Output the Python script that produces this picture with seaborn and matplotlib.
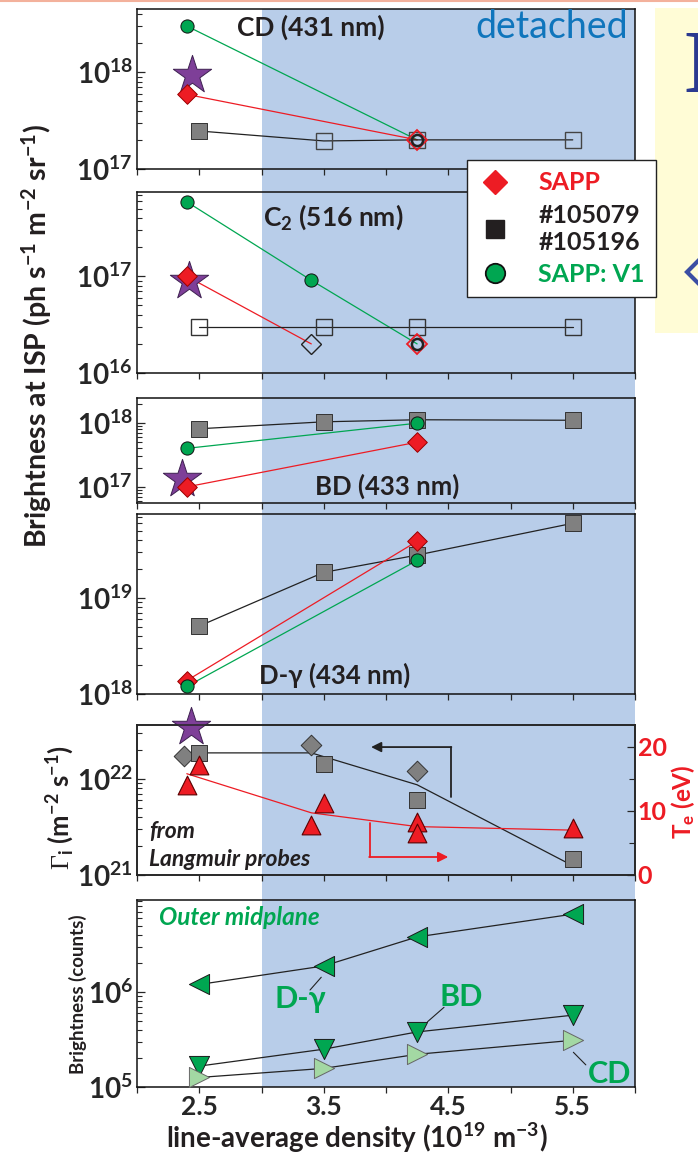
import numpy as np
import matplotlib.pyplot as plt
import seaborn as sns
from matplotlib.ticker import LogLocator, FuncFormatter, NullFormatter, FixedLocator
from matplotlib.patches import Rectangle
from matplotlib.lines import Line2D
import matplotlib.transforms as mtransforms

# ---- data ----
n_exp = [2.5, 3.5, 4.25, 5.5]          # #105079 / #105196
n_sim = [2.4, 4.25]                    # SAPP / SAPP:V1
n_sim3 = [2.4, 3.4, 4.25]

# CD (431 nm)
cd_exp = [2.47e17, 1.95e17, 2.0e17, 2.0e17]
cd_exp_open = [False, True, True, True]
cd_sapp = [5.9e17, 2.0e17]
cd_v1 = [3.0e18, 2.0e17]
cd_star = [9.3e17]

# C2 (516 nm)
c2_exp = [3.0e16, 3.0e16, 3.0e16, 3.0e16]
c2_sapp = [1.0e17, 2.0e16]             # at 2.4, 3.4
c2_sapp_lim = [2.0e16]                 # at 4.25
c2_v1 = [5.9e17, 9.1e16, 2.0e16]
c2_star = [9.0e16]

# BD (433 nm)
bd_exp = [8.1e17, 1.04e18, 1.12e18, 1.10e18]
bd_sapp = [1.0e17, 5.0e17]
bd_v1 = [4.0e17, 9.9e17]
bd_star = [1.33e17]

# D-gamma (434 nm)
dg_exp = [5.1e18, 1.85e19, 2.8e19, 6.0e19]
dg_sapp = [1.38e18, 3.9e19]
dg_v1 = [1.2e18, 2.46e19]

# Langmuir probes
n_gdiam = [2.375, 3.4, 4.25]
gamma_diam = [1.74e22, 2.26e22, 1.22e22]
gamma_sq = [1.85e22, 1.43e22, 6.0e21, 1.46e21]
n_gline = [2.5, 3.4, 4.25, 5.5]
gamma_line = [1.87e22, 1.87e22, 8.7e21, 1.25e21]
gamma_star = [3.5e22]
n_te = [2.4, 2.5, 3.4, 3.5, 4.25, 4.25, 5.5]
te = [14.1, 17.2, 7.8, 11.2, 8.3, 6.6, 7.3]
n_teline = [2.4, 3.4, 4.25, 5.5]
te_line = [15.8, 9.7, 7.55, 7.0]

# Outer midplane (counts)
omp_dg = [1.2e6, 1.88e6, 3.8e6, 6.6e6]
omp_bd = [1.66e5, 2.5e5, 3.8e5, 5.7e5]
omp_cd = [1.26e5, 1.57e5, 2.21e5, 3.1e5]

RED = '#ed1c24'
GREEN = '#00a651'
LGREEN = '#a3d8a3'
GRAY = '#808080'
PURPLE = '#7e3f98'
BLUE_BG = '#b8cde9'
INK = '#231f20'

sns.set_theme(style='ticks')
plt.rcParams['font.family'] = ['Lato', 'DejaVu Sans']
plt.rcParams['mathtext.fontset'] = 'custom'
plt.rcParams['mathtext.rm'] = 'Lato:bold'
plt.rcParams['mathtext.it'] = 'Lato:bold'
plt.rcParams['mathtext.bf'] = 'Lato:bold'
plt.rcParams['mathtext.sf'] = 'Liberation Serif'
plt.rcParams['axes.linewidth'] = 1.1

W, H = 698, 1153
fig = plt.figure(figsize=(W / 100, H / 100), dpi=100)


def add_panel(top, bottom):
    return fig.add_axes([137 / W, 1 - bottom / H, 498 / W, (bottom - top) / H])


def line(ax, x, y, color, lw=0.9, z=2):
    sns.lineplot(x=x, y=y, ax=ax, color=color, lw=lw, sort=False,
                 estimator=None, legend=False, zorder=z)


def dots(ax, x, y, marker, ms, fc, ec='black', mew=0.7, z=3):
    sns.scatterplot(x=x, y=y, ax=ax, marker=marker, s=ms ** 2, color=fc,
                    edgecolor=ec, linewidth=mew, zorder=z, legend=False,
                    clip_on=False)


def hollow(ax, x, y, marker, ms, ec, mew=1.0, z=3):
    ax.plot(x, y, ls='none', marker=marker, ms=ms, mfc='none', mec=ec,
            mew=mew, zorder=z, clip_on=False)


axes = [add_panel(9, 169), add_panel(192, 373), add_panel(398, 503),
        add_panel(514, 694), add_panel(725, 875), add_panel(900, 1087)]
ax1, ax2, ax3, ax4, ax5, ax6 = axes
for ax in axes:
    ax.set_yscale('log')
    ax.set_facecolor('none')

# ---- CD ----
line(ax1, n_sim, cd_v1, GREEN)
line(ax1, n_sim, cd_sapp, RED)
line(ax1, n_exp, cd_exp, '#222222')
for xi, yi, op in zip(n_exp, cd_exp, cd_exp_open):
    if op:
        hollow(ax1, [xi], [yi], 's', 11, '#444444')
    else:
        dots(ax1, [xi], [yi], 's', 11, GRAY, '#333333')
dots(ax1, [2.44], cd_star, '*', 29, PURPLE, '#3d2050', z=3)
dots(ax1, n_sim[:1], cd_sapp[:1], 'D', 10, RED, '#9a0000', z=4)
dots(ax1, n_sim[:1], cd_v1[:1], 'o', 9.5, GREEN, '#111111', z=4)
hollow(ax1, n_sim[1:], cd_sapp[1:], 'D', 10.5, RED, 1.3, z=4)
hollow(ax1, n_sim[1:], cd_v1[1:], 'o', 8, '#222222', 1.8, z=5)

# ---- C2 ----
line(ax2, n_sim3, c2_v1, GREEN)
line(ax2, n_sim3[:2], c2_sapp, RED)
line(ax2, n_exp, c2_exp, '#222222')
hollow(ax2, n_exp, c2_exp, 's', 11, '#333333')
dots(ax2, [2.42], c2_star, '*', 29, PURPLE, '#3d2050')
dots(ax2, n_sim3[:1], c2_sapp[:1], 'D', 10, RED, '#9a0000', z=4)
hollow(ax2, n_sim3[1:2], c2_sapp[1:], 'D', 10.5, '#222222', 1.0, z=4)
hollow(ax2, n_sim3[2:], c2_sapp_lim, 'D', 10.5, RED, 1.3, z=4)
dots(ax2, n_sim3[:2], c2_v1[:2], 'o', 9.5, GREEN, '#111111', z=4)
hollow(ax2, n_sim3[2:], c2_v1[2:], 'o', 8, '#222222', 1.8, z=5)

# ---- BD ----
line(ax3, n_exp, bd_exp, '#222222')
line(ax3, n_sim, bd_v1, GREEN)
line(ax3, n_sim, bd_sapp, RED)
dots(ax3, n_exp, bd_exp, 's', 11, GRAY, '#333333')
dots(ax3, [2.36], bd_star, '*', 29, PURPLE, '#3d2050')
dots(ax3, n_sim, bd_v1, 'o', 9.5, GREEN, '#111111', z=4)
dots(ax3, n_sim, bd_sapp, 'D', 10, RED, '#9a0000', z=4)

# ---- D-gamma ----
line(ax4, n_exp, dg_exp, '#222222')
line(ax4, n_sim, dg_sapp, RED)
line(ax4, n_sim, dg_v1, GREEN)
dots(ax4, n_exp, dg_exp, 's', 11, GRAY, '#333333')
dots(ax4, n_sim, dg_sapp, 'D', 10, RED, '#9a0000', z=4)
dots(ax4, n_sim, dg_v1, 'o', 9.5, GREEN, '#111111', z=5)

# ---- Langmuir probes ----
ax5r = ax5.twinx()
ax5r.set_facecolor('none')
line(ax5, n_gline, gamma_line, '#222222')
dots(ax5, n_gdiam, gamma_diam, 'D', 10.5, GRAY, '#333333')
dots(ax5, n_exp, gamma_sq, 's', 11, GRAY, '#333333')
dots(ax5, [2.43], gamma_star, '*', 29, PURPLE, '#3d2050', z=6)
line(ax5r, n_teline, te_line, RED)
dots(ax5r, n_te, te, '^', 13.5, RED, '#5a0000', mew=0.8, z=4)
# axis-pointer arrows
ax5.plot([4.52, 4.52], [6.5e21, 2.15e22], color='#222222', lw=1.3)
ax5.annotate('', xy=(3.88, 2.15e22), xytext=(4.525, 2.15e22),
             arrowprops=dict(arrowstyle='-|>', color='#222222', lw=1.3,
                             mutation_scale=15, shrinkA=0, shrinkB=0))
ax5.plot([3.87, 3.87], [3.5e21, 1.54e21], color=RED, lw=1.3)
ax5.annotate('', xy=(4.5, 1.54e21), xytext=(3.865, 1.54e21),
             arrowprops=dict(arrowstyle='-|>', color=RED, lw=1.3,
                             mutation_scale=15, shrinkA=0, shrinkB=0))
ax5.text(0.024, 0.29, 'from', transform=ax5.transAxes, fontsize=16.5,
         fontweight='bold', style='italic', va='center', color=INK)
ax5.text(0.024, 0.10, 'Langmuir probes', transform=ax5.transAxes,
         fontsize=16.5, fontweight='bold', style='italic', va='center',
         color=INK)

# ---- outer midplane ----
line(ax6, n_exp, omp_dg, '#222222')
line(ax6, n_exp, omp_bd, '#222222')
line(ax6, n_exp, omp_cd, '#222222')
dots(ax6, n_exp, omp_dg, '<', 14.5, GREEN, '#1a1a1a')
dots(ax6, n_exp, omp_bd, 'v', 14.5, GREEN, '#1a1a1a')
dots(ax6, n_exp, omp_cd, '>', 14.5, LGREEN, '#666666')
ax6.plot([3.39, 3.48], [1.05e6, 1.43e6], color='#222222', lw=0.8)
ax6.plot([4.334, 4.466], [4.87e5, 6.9e5], color='#222222', lw=0.8)
ax6.plot([5.505, 5.605], [2.32e5, 1.71e5], color='#222222', lw=0.8)
for txt, xx, yy in [('D-γ', 0.327, 0.47), ('BD', 0.65, 0.483), ('CD', 0.948, 0.07)]:
    ax6.text(xx, yy, txt, transform=ax6.transAxes, fontsize=22,
             fontweight='bold', color=GREEN, ha='center', va='center')
ax6.text(0.205, 0.909, 'Outer midplane', transform=ax6.transAxes,
         fontsize=17.5, fontweight='bold', style='italic', color=GREEN,
         ha='center', va='center')

# ---- panel titles ----
ax1.text(0.349, 0.887, 'CD (431 nm)', transform=ax1.transAxes, fontsize=19,
         fontweight='bold', ha='center', va='center', color=INK)
ax1.text(0.986, 0.887, 'detached', transform=ax1.transAxes, fontsize=27,
         ha='right', va='center', color='#0f75bc')
ax2.text(0.394, 0.862, r'C$_{2}$ (516 nm)', transform=ax2.transAxes,
         fontsize=19, fontweight='bold', ha='center', va='center', color=INK)
ax3.text(0.503, 0.155, 'BD (433 nm)', transform=ax3.transAxes, fontsize=18.5,
         fontweight='bold', ha='center', va='center', color=INK)
ax4.text(0.396, 0.106, 'D-γ (434 nm)', transform=ax4.transAxes, fontsize=18.5,
         fontweight='bold', ha='center', va='center', color=INK)

# ---- limits and ticks ----
ylims = [(1e17, 4.5e18), (1e16, 7.45e17), (5.6e16, 2.45e18),
         (1e18, 7.5e19), (1e21, 3.65e22), (1e5, 9.3e6)]
dec_fmt = FuncFormatter(lambda v, p: r'$10^{%d}$' % round(np.log10(v)))
for ax, yl in zip(axes, ylims):
    ax.set_xlim(2.0, 6.0)
    ax.set_ylim(*yl)
    ax.yaxis.set_major_locator(LogLocator(base=10, numticks=30))
    ax.yaxis.set_minor_locator(LogLocator(base=10, subs=np.arange(2, 10), numticks=30))
    ax.yaxis.set_major_formatter(dec_fmt)
    ax.yaxis.set_minor_formatter(NullFormatter())
    ax.set_xticks([2.5, 3.5, 4.5, 5.5])
    ax.xaxis.set_minor_locator(FixedLocator([2.0, 3.0, 4.0, 5.0, 6.0]))
    ax.tick_params(axis='y', which='major', direction='in', length=6, width=0.9,
                   labelsize=20, pad=3)
    ax.tick_params(axis='y', which='minor', direction='in', length=3.5, width=0.8)
    ax.tick_params(axis='x', which='both', direction='out', length=4, width=0.9,
                   labelsize=19, pad=2)
    ax.set_xlabel('')
    ax.set_ylabel('')
    for sp in ax.spines.values():
        sp.set_visible(True)
        sp.set_color('#111111')
    if ax is not ax6:
        ax.tick_params(axis='x', labelbottom=False)
ax6.set_xticklabels(['2.5', '3.5', '4.5', '5.5'], fontweight='bold')

ax5r.set_ylim(0, 23.4)
ax5r.set_yticks([0, 10, 20])
ax5r.set_yticks([5, 15], minor=True)
ax5r.set_yticklabels(['0', '10', '20'], fontweight='bold')
ax5r.tick_params(axis='y', which='major', direction='in', length=6, width=0.9,
                 labelsize=18, labelcolor=RED, pad=2)
ax5r.tick_params(axis='y', which='minor', direction='in', length=4, width=0.8)
ax5r.set_ylabel('')

# ---- axis labels ----
fig.text(37 / W, 1 - 336 / H, r'Brightness at ISP (ph s$^{-1}$ m$^{-2}$ sr$^{-1}$)',
         rotation=90, fontsize=20.5, fontweight='bold', ha='center', va='center',
         color=INK)
fig.text(60 / W, 1 - 808 / H, r'$\mathsf{\Gamma}_{i}$ (m$^{-2}$ s$^{-1}$)',
         rotation=90, fontsize=18.5, fontweight='bold', ha='center', va='center',
         color=INK)
fig.text(683 / W, 1 - 802 / H, r'T$_{e}$ (eV)', rotation=90, fontsize=17.5,
         fontweight='bold', ha='center', va='center', color=RED)
fig.text(78 / W, 1 - 994 / H, 'Brightness (counts)', rotation=90, fontsize=13.5,
         fontweight='bold', ha='center', va='center', color=INK)
fig.text(357 / W, 1 - 1138 / H, r'line-average density (10$^{19}$ m$^{-3}$)',
         fontsize=20, fontweight='bold', ha='center', va='center', color=INK)

# ---- shaded "detached" band and slide leftovers ----
band = mtransforms.blended_transform_factory(ax6.transData, fig.transFigure)
fig.add_artist(Rectangle((3.0, 1 - 1087 / H), 3.0, 1078 / H, transform=band,
                         color=BLUE_BG, zorder=-2, lw=0))
fig.add_artist(Rectangle((655 / W, 1 - 333 / H), 1 - 655 / W, 325 / H,
                         transform=fig.transFigure, color='#fffcd6', zorder=-2, lw=0))
fig.text(684 / W, 1 - 93 / H, 'D', family='Liberation Serif', fontsize=65,
         fontweight='bold', color='#2b3990', ha='left', va='baseline')
fig.add_artist(Line2D([709 / W], [1 - 272 / H], transform=fig.transFigure,
                      marker='D', ms=22, mfc='none', mec='#3b4ea3', mew=3))
fig.add_artist(Line2D([0, 1], [1 - 0.8 / H] * 2, transform=fig.transFigure,
                      color='#f3b19c', lw=1.5))

# ---- legend ----
handles = [Line2D([], [], ls='none', marker='D', ms=12, mfc=RED, mec=RED),
           Line2D([], [], ls='none', marker='s', ms=12.5, mfc=INK, mec=INK),
           Line2D([], [], ls='none', marker='o', ms=14, mfc=GREEN, mec='#111111', mew=1.3)]
leg = fig.legend(handles, ['SAPP', '#105079\n#105196', 'SAPP: V1'],
                 loc='upper left', bbox_to_anchor=(467 / W, 1 - 160 / H),
                 bbox_transform=fig.transFigure, frameon=True, fancybox=False,
                 framealpha=1, edgecolor='#222222', borderaxespad=0,
                 prop={'weight': 'bold', 'size': 18},
                 labelcolor=[RED, INK, GREEN], handlelength=1.3,
                 handletextpad=1.1, labelspacing=0.38, borderpad=0.45)
leg.get_frame().set_linewidth(1.0)

fig.savefig('out.png', dpi=100)
